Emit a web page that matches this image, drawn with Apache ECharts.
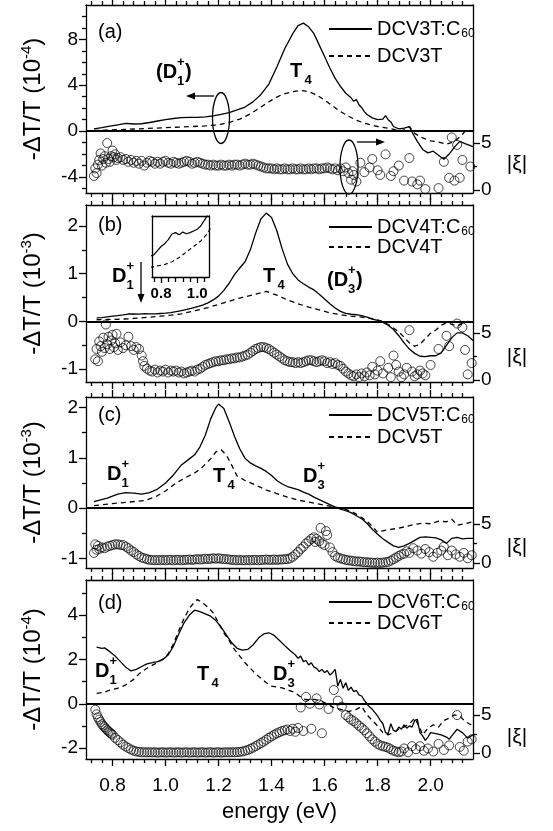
<!DOCTYPE html>
<html>
<head>
<meta charset="utf-8">
<script src="https://cdn.jsdelivr.net/npm/echarts@6/dist/echarts.min.js"></script>
<style>
html, body { margin: 0; padding: 0; background: #fff; }
#chart { width: 553px; height: 831px; }
</style>
</head>
<body>
<div id="chart"></div>
<script>
// ---- tick values ----
const xMajor = [0.8, 1.0, 1.2, 1.4, 1.6, 1.8, 2.0];
const xMinor = [0.72, 0.76, 0.84, 0.88, 0.92, 0.96, 1.04, 1.08, 1.12, 1.16, 1.24, 1.28, 1.32, 1.36,
  1.44, 1.48, 1.52, 1.56, 1.64, 1.68, 1.72, 1.76, 1.84, 1.88, 1.92, 1.96, 2.04, 2.08, 2.12];
const insetMajor = [0.8, 1.0];
const insetMinor = [0.76, 0.84, 0.88, 0.92, 0.96, 1.04];
const xiMajor = [0, 5];
const xiMinor = [2.5];

// ---- (a) DCV3T ----
const solidA = [[0.73,0.2],[0.76,0.3],[0.79,0.43],[0.82,0.55],[0.85,0.67],[0.88,0.62],[0.91,0.64],[0.94,0.75],
  [0.97,0.88],[1.00,1.0],[1.03,1.1],[1.06,1.17],[1.09,1.19],[1.12,1.2],[1.15,1.24],[1.18,1.32],[1.21,1.45],
  [1.24,1.62],[1.27,1.85],[1.30,2.1],[1.33,2.55],[1.36,3.2],[1.39,4.1],[1.42,5.6],[1.45,7.2],[1.48,8.5],
  [1.50,9.2],[1.52,9.42],[1.54,9.1],[1.56,8.5],[1.58,7.5],[1.60,6.5],[1.62,5.5],[1.64,4.6],[1.66,3.9],
  [1.68,3.3],[1.70,2.9],[1.71,2.6],[1.72,2.75],[1.73,2.3],[1.74,2.05],[1.75,1.7],[1.76,1.45],[1.78,1.15],
  [1.80,1.0],[1.82,1.05],[1.83,1.35],[1.84,1.0],[1.85,0.8],[1.86,0.4],[1.88,0.2],[1.90,0.25],[1.92,0.4],
  [1.93,-0.1],[1.95,-0.9],[1.97,-1.6],[1.99,-1.9],[2.01,-1.75],[2.03,-2.1],[2.05,-2.45],[2.07,-2.0],
  [2.09,-1.4],[2.11,-0.9],[2.13,-1.1],[2.16,-1.35]];
const dashA = [[0.73,0.05],[0.80,0.1],[0.90,0.2],[1.00,0.3],[1.10,0.4],[1.15,0.45],[1.20,0.55],[1.24,0.75],
  [1.28,1.05],[1.32,1.5],[1.36,2.1],[1.40,2.7],[1.44,3.2],[1.48,3.45],[1.51,3.55],[1.54,3.45],[1.57,3.15],
  [1.60,2.7],[1.63,2.2],[1.66,1.7],[1.69,1.3],[1.72,0.95],[1.75,0.7],[1.78,0.5],[1.81,0.35],[1.84,0.25],
  [1.87,0.1],[1.89,0.0],[1.91,0.2],[1.92,0.4],[1.94,-0.2],[1.97,-0.6],[2.00,-0.85],[2.03,-0.95],
  [2.06,-1.15],[2.09,-0.9],[2.12,-0.3],[2.14,0.3]];
const xiA = [[0.73,1.5],[0.735,2.3],[0.74,1.8],[0.745,2.7],[0.75,3.2],[0.755,3.9],[0.76,2.6],[0.765,3.3],
  [0.77,3.6],[0.775,2.9],[0.78,5.0],[0.785,3.3],[0.79,3.0],[0.795,3.6],[0.80,4.2],[0.805,3.5],[0.81,3.8],
  [0.815,3.2],[0.82,3.4],[0.83,3.5],[0.84,3.2],[0.85,3.3],[0.86,3.0],[0.87,3.2],[0.88,2.9],[0.89,3.1],
  [0.90,2.8],[0.91,3.1],[0.92,2.6],[0.93,2.9],[0.94,3.1],[0.95,3.0],[0.96,2.8],[0.97,3.0],[0.98,2.8],
  [0.99,3.0],[1.00,3.1],[1.01,2.9],[1.02,2.8],[1.03,3.0],[1.04,2.9],[1.05,2.8],[1.06,2.9],[1.07,3.0],
  [1.08,3.1],[1.09,3.0],[1.10,2.8],[1.11,2.9],[1.12,3.0],[1.13,2.9],[1.14,2.8],[1.15,2.7],[1.16,2.7],
  [1.17,2.6],[1.18,2.7],[1.19,2.6],[1.20,2.6],[1.21,2.7],[1.22,2.6],[1.23,2.6],[1.24,2.7],[1.25,2.6],
  [1.26,2.7],[1.27,2.7],[1.28,2.6],[1.29,2.7],[1.30,2.8],[1.31,2.7],[1.32,2.7],[1.33,2.8],[1.34,2.7],
  [1.35,2.6],[1.36,2.5],[1.37,2.4],[1.38,2.3],[1.39,2.3],[1.40,2.3],[1.41,2.2],[1.42,2.3],[1.43,2.2],
  [1.44,2.2],[1.45,2.3],[1.46,2.2],[1.47,2.2],[1.48,2.3],[1.49,2.2],[1.50,2.2],[1.51,2.3],[1.52,2.2],
  [1.53,2.2],[1.54,2.3],[1.55,2.2],[1.56,2.3],[1.57,2.3],[1.58,2.2],[1.59,2.3],[1.60,2.3],[1.61,2.4],
  [1.62,2.3],[1.63,2.2],[1.64,2.3],[1.65,2.1],[1.66,2.3],[1.67,2.0],[1.68,2.4],[1.69,1.8],[1.70,1.1],
  [1.705,2.0],[1.71,1.6],[1.72,0.9],[1.735,2.9],[1.75,1.9],[1.77,2.4],[1.78,3.3],[1.80,2.1],[1.81,1.6],
  [1.83,3.8],[1.85,1.5],[1.86,2.0],[1.88,2.6],[1.90,1.0],[1.92,3.4],[1.93,0.9],[1.95,0.6],[1.96,1.0],
  [1.98,0.1],[2.03,0.2],[2.05,3.0],[2.07,1.3],[2.08,5.6],[2.09,1.0],[2.10,4.8],[2.11,1.3],[2.12,3.2],[2.15,2.5]];

// ---- (b) DCV4T ----
const solidB = [[0.74,0.075],[0.76,0.08],[0.78,0.095],[0.80,0.11],[0.82,0.12],[0.84,0.135],[0.86,0.155],
  [0.88,0.16],[0.90,0.152],[0.92,0.162],[0.94,0.156],[0.96,0.16],[0.98,0.166],[1.00,0.172],[1.02,0.185],
  [1.04,0.205],[1.06,0.225],[1.08,0.25],[1.10,0.28],[1.12,0.31],[1.14,0.34],[1.16,0.39],[1.18,0.45],
  [1.20,0.53],[1.22,0.65],[1.24,0.8],[1.26,0.98],[1.28,1.12],[1.30,1.25],[1.32,1.5],[1.34,1.85],[1.36,2.15],
  [1.38,2.27],[1.40,2.18],[1.42,1.9],[1.44,1.52],[1.46,1.2],[1.48,1.0],[1.50,0.87],[1.52,0.79],[1.54,0.72],
  [1.56,0.66],[1.58,0.57],[1.60,0.47],[1.62,0.37],[1.64,0.28],[1.66,0.21],[1.68,0.17],[1.70,0.15],
  [1.72,0.14],[1.74,0.12],[1.76,0.09],[1.78,0.05],[1.80,0.02],[1.82,-0.02],[1.84,-0.08],[1.86,-0.17],
  [1.88,-0.3],[1.90,-0.45],[1.92,-0.58],[1.94,-0.67],[1.96,-0.73],[1.98,-0.74],[2.00,-0.72],[2.02,-0.72],
  [2.04,-0.66],[2.06,-0.5],[2.08,-0.34],[2.10,-0.24],[2.12,-0.24],[2.14,-0.3],[2.16,-0.4]];
const dashB = [[0.74,0.035],[0.78,0.04],[0.82,0.045],[0.86,0.055],[0.90,0.07],[0.94,0.09],[0.98,0.11],
  [1.02,0.13],[1.06,0.16],[1.10,0.21],[1.16,0.29],[1.22,0.39],[1.28,0.49],[1.34,0.57],[1.38,0.63],
  [1.42,0.55],[1.46,0.45],[1.50,0.37],[1.54,0.3],[1.58,0.24],[1.62,0.18],[1.66,0.14],[1.70,0.11],
  [1.74,0.09],[1.78,0.06],[1.82,0.0],[1.85,-0.1],[1.88,-0.22],[1.90,-0.33],[1.92,-0.45],[1.94,-0.52],
  [1.96,-0.48],[1.98,-0.36],[2.00,-0.25],[2.02,-0.18],[2.04,-0.08],[2.06,-0.03],[2.08,-0.06],[2.10,-0.1],
  [2.12,-0.04],[2.14,0.0],[2.16,-0.04]];
const xiB = [[0.735,2.2],[0.74,3.3],[0.745,2.0],[0.75,4.1],[0.755,3.6],[0.76,3.0],[0.765,4.5],[0.77,3.4],
  [0.775,5.9],[0.78,3.8],[0.785,4.6],[0.79,3.3],[0.795,4.2],[0.80,4.8],[0.805,3.5],[0.81,3.9],[0.815,4.9],
  [0.82,3.2],[0.83,4.0],[0.84,3.4],[0.85,3.7],[0.86,4.6],[0.87,3.6],[0.88,3.2],[0.89,3.5],[0.90,3.3],
  [0.91,2.6],[0.915,2.0],[0.92,1.5],[0.93,1.2],[0.94,1.0],[0.95,0.9],[0.96,1.1],[0.97,0.8],[0.98,1.0],
  [0.99,0.9],[1.00,1.1],[1.01,0.8],[1.02,1.0],[1.03,0.9],[1.04,1.0],[1.05,0.8],[1.06,0.9],[1.07,0.7],
  [1.08,0.8],[1.09,0.9],[1.10,1.0],[1.11,0.9],[1.12,1.1],[1.13,1.2],[1.14,1.4],[1.15,1.6],[1.16,1.7],
  [1.17,1.8],[1.18,1.9],[1.19,2.0],[1.20,2.0],[1.21,2.1],[1.22,2.1],[1.23,2.2],[1.24,2.2],[1.25,2.3],
  [1.26,2.3],[1.27,2.4],[1.28,2.4],[1.29,2.5],[1.30,2.6],[1.31,2.7],[1.32,2.9],[1.33,3.1],[1.34,3.3],
  [1.35,3.4],[1.36,3.5],[1.37,3.5],[1.38,3.4],[1.39,3.3],[1.40,3.1],[1.41,2.9],[1.42,2.7],[1.43,2.5],
  [1.44,2.3],[1.45,2.1],[1.46,2.0],[1.47,1.9],[1.48,1.9],[1.49,1.8],[1.50,1.9],[1.51,1.8],[1.52,1.9],
  [1.53,2.0],[1.54,2.1],[1.55,2.1],[1.56,2.0],[1.57,1.9],[1.58,2.0],[1.59,2.1],[1.60,2.0],[1.61,1.8],
  [1.62,1.9],[1.63,1.7],[1.64,1.8],[1.65,1.6],[1.66,1.5],[1.67,1.2],[1.68,0.9],[1.69,0.7],[1.70,0.5],
  [1.71,0.4],[1.72,0.6],[1.73,0.3],[1.74,0.7],[1.75,0.4],[1.76,0.8],[1.77,0.5],[1.78,1.4],[1.79,0.6],
  [1.80,1.0],[1.81,2.0],[1.82,0.7],[1.84,1.3],[1.85,0.3],[1.86,2.6],[1.87,1.6],[1.88,0.9],[1.89,0.3],
  [1.90,0.6],[1.91,1.3],[1.92,5.3],[1.93,0.9],[1.94,0.4],[1.95,0.6],[1.96,1.0],[1.97,0.7],[1.98,0.5],
  [2.00,1.6],[2.03,3.3],[2.06,4.7],[2.07,3.6],[2.10,6.0],[2.12,5.6],[2.13,3.2],[2.14,0.6],[2.155,1.8]];

// ---- (c) DCV5T ----
const solidC = [[0.73,0.13],[0.78,0.2],[0.82,0.28],[0.85,0.31],[0.88,0.3],[0.91,0.28],[0.94,0.31],[0.97,0.38],
  [1.00,0.5],[1.03,0.66],[1.06,0.86],[1.09,0.98],[1.11,1.06],[1.13,1.22],[1.15,1.45],[1.17,1.77],[1.19,2.0],
  [1.20,2.07],[1.22,1.98],[1.24,1.72],[1.26,1.43],[1.28,1.18],[1.30,0.99],[1.32,0.9],[1.34,0.84],[1.36,0.79],
  [1.38,0.73],[1.40,0.65],[1.42,0.55],[1.44,0.48],[1.46,0.43],[1.48,0.4],[1.50,0.37],[1.52,0.32],[1.54,0.28],
  [1.56,0.22],[1.58,0.17],[1.60,0.12],[1.62,0.07],[1.64,0.02],[1.66,-0.02],[1.68,-0.05],[1.70,-0.09],
  [1.72,-0.15],[1.74,-0.21],[1.76,-0.3],[1.78,-0.42],[1.80,-0.52],[1.82,-0.61],[1.84,-0.68],[1.86,-0.75],
  [1.88,-0.78],[1.90,-0.75],[1.92,-0.7],[1.94,-0.64],[1.96,-0.58],[1.98,-0.57],[2.00,-0.58],[2.02,-0.59],
  [2.04,-0.63],[2.06,-0.7],[2.08,-0.6],[2.10,-0.58],[2.12,-0.61],[2.14,-0.6],[2.16,-0.6]];
const dashC = [[0.73,0.05],[0.80,0.09],[0.86,0.12],[0.92,0.15],[0.96,0.22],[1.00,0.34],[1.04,0.5],[1.08,0.62],
  [1.11,0.7],[1.14,0.82],[1.17,0.98],[1.19,1.12],[1.21,1.16],[1.23,1.05],[1.25,0.85],[1.27,0.64],[1.30,0.55],
  [1.34,0.46],[1.38,0.36],[1.42,0.29],[1.46,0.22],[1.50,0.16],[1.54,0.12],[1.58,0.08],[1.62,0.04],[1.66,0.0],
  [1.70,-0.06],[1.73,-0.15],[1.76,-0.26],[1.78,-0.36],[1.80,-0.48],[1.82,-0.45],[1.85,-0.42],[1.88,-0.4],
  [1.91,-0.36],[1.94,-0.32],[1.97,-0.3],[2.00,-0.31],[2.03,-0.26],[2.06,-0.27],[2.08,-0.22],[2.10,-0.34],
  [2.13,-0.31],[2.16,-0.27]];
const xiC = [[0.73,1.3],[0.735,2.4],[0.74,1.7],[0.745,2.2],[0.75,1.8],[0.76,2.0],[0.77,1.9],[0.78,2.1],
  [0.79,2.2],[0.80,2.3],[0.81,2.4],[0.82,2.4],[0.83,2.3],[0.84,2.3],[0.85,2.1],[0.86,1.9],[0.87,1.6],
  [0.88,1.4],[0.89,1.1],[0.90,0.9],[0.91,0.7],[0.92,0.6],[0.93,0.5],[0.94,0.4],[0.95,0.4],[0.96,0.35],
  [0.97,0.4],[0.98,0.35],[0.99,0.4],[1.00,0.35],[1.01,0.4],[1.02,0.4],[1.03,0.35],[1.04,0.4],[1.05,0.4],
  [1.06,0.35],[1.07,0.4],[1.08,0.4],[1.09,0.45],[1.10,0.4],[1.11,0.45],[1.12,0.5],[1.13,0.45],[1.14,0.5],
  [1.15,0.55],[1.16,0.5],[1.17,0.55],[1.18,0.6],[1.19,0.55],[1.20,0.6],[1.21,0.55],[1.22,0.5],[1.23,0.5],
  [1.24,0.45],[1.25,0.4],[1.26,0.4],[1.27,0.35],[1.28,0.4],[1.29,0.35],[1.30,0.35],[1.31,0.4],[1.32,0.35],
  [1.33,0.4],[1.34,0.4],[1.35,0.35],[1.36,0.4],[1.37,0.4],[1.38,0.45],[1.39,0.4],[1.40,0.4],[1.41,0.45],
  [1.42,0.4],[1.43,0.45],[1.44,0.45],[1.45,0.5],[1.46,0.5],[1.47,0.6],[1.48,0.8],[1.49,1.1],[1.50,1.4],
  [1.51,1.8],[1.52,2.1],[1.53,2.5],[1.54,2.8],[1.55,3.1],[1.56,3.3],[1.565,2.7],[1.57,3.1],[1.58,2.8],
  [1.585,4.5],[1.59,2.5],[1.60,2.3],[1.605,4.1],[1.61,3.6],[1.62,2.0],[1.63,1.4],[1.64,0.9],[1.65,0.7],
  [1.66,0.6],[1.67,0.5],[1.68,0.4],[1.69,0.35],[1.70,0.3],[1.71,0.25],[1.72,0.2],[1.73,0.2],[1.74,0.15],
  [1.75,0.1],[1.76,0.1],[1.77,0.05],[1.78,0.05],[1.79,0.0],[1.80,0.05],[1.81,0.0],[1.82,0.05],[1.83,0.1],
  [1.84,0.15],[1.85,0.3],[1.86,0.5],[1.87,0.7],[1.88,0.9],[1.89,1.1],[1.90,1.2],[1.91,1.5],[1.92,1.3],
  [1.935,1.9],[1.95,1.6],[1.965,1.2],[1.98,1.8],[1.995,1.4],[2.01,0.8],[2.025,1.3],[2.04,1.6],[2.05,2.1],
  [2.065,1.0],[2.08,1.6],[2.095,1.1],[2.11,0.8],[2.125,1.3],[2.14,0.6],[2.155,1.0]];

// ---- (d) DCV6T ----
const solidD = [[0.74,2.55],[0.76,2.5],[0.77,2.52],[0.79,2.35],[0.81,2.15],[0.83,1.9],[0.85,1.65],[0.87,1.48],
  [0.89,1.55],[0.91,1.68],[0.93,1.8],[0.95,1.85],[0.97,1.9],[0.99,2.0],[1.01,2.2],[1.03,2.6],[1.05,3.15],
  [1.07,3.65],[1.09,4.0],[1.11,4.22],[1.13,4.15],[1.15,4.05],[1.17,3.95],[1.19,3.75],[1.21,3.45],[1.23,3.1],
  [1.25,2.75],[1.27,2.5],[1.29,2.42],[1.31,2.45],[1.33,2.65],[1.35,2.95],[1.37,3.15],[1.39,3.2],[1.41,3.08],
  [1.43,2.85],[1.45,2.62],[1.47,2.4],[1.49,2.2],[1.50,2.05],[1.51,2.15],[1.52,1.9],[1.53,1.95],[1.54,1.75],
  [1.55,1.85],[1.56,1.65],[1.57,1.6],[1.58,1.45],[1.59,1.55],[1.60,1.4],[1.61,1.5],[1.62,1.3],[1.63,1.4],
  [1.64,1.55],[1.65,0.8],[1.66,1.1],[1.67,0.7],[1.68,0.95],[1.69,0.6],[1.70,0.75],[1.71,0.55],[1.72,0.6],
  [1.73,0.4],[1.74,0.35],[1.75,0.15],[1.76,0.0],[1.77,-0.15],[1.78,-0.25],[1.79,-0.4],[1.80,-0.55],
  [1.81,-0.75],[1.82,-0.9],[1.83,-1.3],[1.84,-1.35],[1.85,-0.9],[1.86,-1.2],[1.87,-1.25],[1.88,-1.05],
  [1.89,-1.15],[1.90,-0.95],[1.91,-1.1],[1.92,-1.0],[1.93,-1.05],[1.94,-0.75],[1.95,-0.7],[1.96,-1.3],
  [1.97,-1.45],[1.98,-1.65],[1.99,-1.5],[2.00,-1.3],[2.02,-1.35],[2.04,-1.4],[2.06,-1.5],[2.07,-1.6],
  [2.08,-1.45],[2.10,-1.15],[2.12,-1.3],[2.14,-1.55],[2.16,-1.4]];
const dashD = [[0.74,0.47],[0.77,0.52],[0.79,0.62],[0.82,0.7],[0.85,0.85],[0.88,1.1],[0.90,1.35],[0.93,1.6],
  [0.96,1.8],[0.99,2.0],[1.01,2.25],[1.03,2.7],[1.05,3.3],[1.07,3.85],[1.09,4.3],[1.11,4.6],[1.12,4.7],
  [1.14,4.55],[1.16,4.35],[1.18,4.1],[1.20,3.65],[1.22,3.2],[1.24,2.85],[1.26,2.45],[1.28,2.15],[1.30,1.85],
  [1.32,1.6],[1.34,1.35],[1.36,1.15],[1.38,0.95],[1.40,0.8],[1.42,0.75],[1.44,0.72],[1.46,0.62],[1.48,0.55],
  [1.50,0.4],[1.52,0.22],[1.54,0.17],[1.56,0.2],[1.58,0.15],[1.60,0.05],[1.63,-0.15],[1.66,-0.25],
  [1.69,-0.35],[1.72,-0.25],[1.74,-0.12],[1.76,-0.5],[1.78,-0.75],[1.80,-1.0],[1.82,-1.3],[1.84,-1.4],
  [1.86,-1.3],[1.88,-1.15],[1.90,-1.05],[1.92,-0.9],[1.94,-0.65],[1.96,-1.1],[1.97,-1.4],[1.99,-1.1],
  [2.01,-0.95],[2.03,-1.05],[2.05,-0.75],[2.07,-0.65],[2.09,-0.5],[2.11,-0.55],[2.13,-0.8],[2.16,-1.0]];
const xiD = [[0.735,5.7],[0.74,5.1],[0.745,4.7],[0.75,4.4],[0.755,4.1],[0.76,3.8],[0.765,3.6],[0.77,3.4],
  [0.775,3.2],[0.78,3.0],[0.785,2.85],[0.79,2.7],[0.795,2.55],[0.80,2.4],[0.81,2.0],[0.82,1.7],[0.83,1.4],
  [0.84,1.1],[0.85,0.85],[0.86,0.65],[0.87,0.45],[0.88,0.3],[0.89,0.2],[0.90,0.15],[0.91,0.1],[0.92,0.1],
  [0.93,0.08],[0.94,0.1],[0.95,0.08],[0.96,0.1],[0.97,0.05],[0.98,0.08],[0.99,0.1],[1.00,0.05],[1.01,0.08],
  [1.02,0.1],[1.03,0.05],[1.04,0.08],[1.05,0.1],[1.06,0.05],[1.07,0.08],[1.08,0.1],[1.09,0.05],[1.10,0.08],
  [1.11,0.1],[1.12,0.05],[1.13,0.08],[1.14,0.1],[1.15,0.05],[1.16,0.08],[1.17,0.1],[1.18,0.05],[1.19,0.08],
  [1.20,0.1],[1.21,0.05],[1.22,0.08],[1.23,0.1],[1.24,0.08],[1.25,0.1],[1.26,0.1],[1.27,0.12],[1.28,0.15],
  [1.29,0.2],[1.30,0.3],[1.31,0.4],[1.32,0.55],[1.33,0.7],[1.34,0.9],[1.35,1.1],[1.36,1.3],[1.37,1.5],
  [1.38,1.75],[1.39,2.0],[1.40,2.2],[1.41,2.4],[1.42,2.6],[1.43,2.75],[1.44,2.9],[1.45,3.0],[1.46,3.1],
  [1.47,2.9],[1.48,3.2],[1.49,2.8],[1.50,3.3],[1.51,6.0],[1.52,2.9],[1.53,7.4],[1.545,6.5],[1.55,3.2],
  [1.57,7.2],[1.58,6.4],[1.59,2.6],[1.615,5.8],[1.635,8.3],[1.65,6.9],[1.665,6.1],[1.68,5.0],[1.69,4.7],
  [1.70,4.4],[1.71,4.2],[1.72,3.9],[1.73,3.6],[1.74,3.3],[1.75,3.0],[1.76,2.6],[1.77,2.2],[1.78,1.8],
  [1.79,1.5],[1.80,1.2],[1.81,1.0],[1.82,0.9],[1.83,0.8],[1.84,0.7],[1.85,0.5],[1.86,0.3],[1.87,0.2],
  [1.88,0.1],[1.89,0.2],[1.90,0.6],[1.915,0.1],[1.93,0.9],[1.945,0.5],[1.96,0.9],[1.975,0.3],[1.99,0.6],
  [2.01,0.2],[2.03,1.2],[2.05,0.4],[2.07,1.0],[2.10,5.0],[2.11,0.8],[2.125,0.3],[2.14,1.5],[2.155,1.8]];

const FONT = '"Liberation Sans", Arial, Helvetica, sans-serif';
const BLK = '#000';

const panels = [
  { top: 5,   h: 188, yMin: -5.4,  yMax: 11.0, rMin: -0.32, rMax: 19.7,
    yMajor: [-4, 0, 4, 8], yMinor: [-5, -3, -2, -1, 1, 2, 3, 5, 6, 7, 9, 10], exp: '-4',
    solid: solidA, dash: dashA, xi: xiA, names: ['DCV3T:C60', 'DCV3T'], legTop: 18.5, legGap: 6 },
  { top: 205, h: 177, yMin: -1.27, yMax: 2.44, rMin: -0.21, rMax: 18.6,
    yMajor: [-1, 0, 1, 2], yMinor: [-0.5, 0.5, 1.5], exp: '-3',
    solid: solidB, dash: dashB, xi: xiB, names: ['DCV4T:C60', 'DCV4T'], legTop: 216.5, legGap: -1 },
  { top: 397, h: 171, yMin: -1.19, yMax: 2.21, rMin: -0.64, rMax: 21.3,
    yMajor: [-1, 0, 1, 2], yMinor: [-0.5, 0.5, 1.5], exp: '-3',
    solid: solidC, dash: dashC, xi: xiC, names: ['DCV5T:C60', 'DCV5T'], legTop: 404.5, legGap: 1 },
  { top: 580, h: 179, yMin: -2.49, yMax: 5.58, rMin: -0.79, rMax: 22.8,
    yMajor: [-2, 0, 2, 4], yMinor: [-1, 1, 3, 5], exp: '-4',
    solid: solidD, dash: dashD, xi: xiD, names: ['DCV6T:C60', 'DCV6T'], legTop: 591.5, legGap: 0 }
];
const xiLabelY = [164, 357, 547, 737];

const line = { color: BLK, width: 1.3 };
const grid = [], xAxis = [], yAxis = [], series = [], legend = [];

function tickAxis(base, ticks, len, showLine, label) {
  return Object.assign({
    type: 'value',
    splitLine: { show: false },
    axisLine: { show: showLine, onZero: false, lineStyle: line },
    axisTick: { show: true, inside: false, length: len, customValues: ticks, lineStyle: line },
    axisLabel: label || { show: false }
  }, base);
}

panels.forEach((p, i) => {
  grid.push({ left: 86, right: 80, top: p.top, height: p.h, show: false });
  const xb = { gridIndex: i, min: 0.70, max: 2.16 };
  const xLabel = i === 3 ? { show: true, customValues: xMajor, formatter: v => v.toFixed(1),
    fontSize: 19, fontFamily: FONT, color: BLK, margin: 17 } : { show: false };
  const bottom = tickAxis(Object.assign({ position: 'bottom' }, xb), xMajor, 7, true, xLabel);
  if (i === 3) {
    Object.assign(bottom, { name: 'energy (eV)', nameLocation: 'middle', nameGap: 42,
      nameTextStyle: { fontSize: 22, fontFamily: FONT, color: BLK } });
  }
  xAxis.push(bottom);
  xAxis.push(tickAxis(Object.assign({ position: 'bottom' }, xb), xMinor, 4, false));
  xAxis.push(tickAxis(Object.assign({ position: 'top' }, xb), xMajor, 7, true));
  xAxis.push(tickAxis(Object.assign({ position: 'top' }, xb), xMinor, 4, false));

  const yl = { gridIndex: i, position: 'left', min: p.yMin, max: p.yMax };
  const left = tickAxis(yl, p.yMajor, 7, true, { show: true, customValues: p.yMajor,
    fontSize: 19, fontFamily: FONT, color: BLK, margin: 8 });
  Object.assign(left, {
    name: '-ΔT/T (10{sup|' + p.exp + '})', nameLocation: 'middle', nameGap: 39,
    nameTextStyle: { fontSize: 24, fontFamily: FONT, color: BLK, lineHeight: 28,
      rich: { sup: { fontSize: 15, fontFamily: FONT, color: BLK, verticalAlign: 'top' } } }
  });
  yAxis.push(left);
  yAxis.push(tickAxis(yl, p.yMinor, 4, false));
  const yr = { gridIndex: i, position: 'right', min: p.rMin, max: p.rMax };
  yAxis.push(tickAxis(yr, xiMajor, 7, true, { show: true, customValues: xiMajor,
    fontSize: 19, fontFamily: FONT, color: BLK, margin: 8 }));
  yAxis.push(tickAxis(yr, xiMinor, 4, false));

  const ax = 4 * i;
  series.push({
    type: 'line', name: p.names[0], xAxisIndex: ax, yAxisIndex: ax, data: p.solid,
    symbol: 'none', itemStyle: { color: BLK }, lineStyle: { color: BLK, width: 1.3, type: 'solid' }, z: 3,
    markLine: { silent: true, symbol: 'none', label: { show: false }, animation: false,
      lineStyle: { color: BLK, width: 1.8, type: 'solid' }, data: [{ yAxis: 0 }] }
  });
  series.push({
    type: 'line', name: p.names[1], xAxisIndex: ax, yAxisIndex: ax, data: p.dash,
    symbol: 'none', itemStyle: { color: BLK }, lineStyle: { color: BLK, width: 1.3, type: [5, 4] }, z: 3
  });
  series.push({
    type: 'scatter', xAxisIndex: ax, yAxisIndex: ax + 2, data: p.xi, symbol: 'circle', symbolSize: 9,
    itemStyle: { color: 'rgba(0,0,0,0)', borderColor: BLK, borderWidth: 0.9 }, z: 2, silent: true
  });

  legend.push({
    data: p.names, orient: 'vertical', left: 328, top: p.legTop, itemWidth: 43, itemHeight: 10,
    itemGap: p.legGap, selectedMode: false, padding: 0,
    itemStyle: { opacity: 0 },
    formatter: n => n.replace('C60', 'C{sub|60}'),
    textStyle: { fontSize: 20, fontFamily: FONT, color: BLK, lineHeight: 21,
      rich: { sub: { fontSize: 12, fontFamily: FONT, color: BLK, verticalAlign: 'bottom', padding: [0, 0, 0, 1] } } }
  });
});

// inset in panel (b)
grid.push({ left: 152, top: 216, width: 57, height: 61, show: true, backgroundColor: '#fff', borderWidth: 0 });
const ib = { gridIndex: 4, min: 0.75, max: 1.065 };
xAxis.push(tickAxis(Object.assign({ position: 'bottom' }, ib), insetMajor, 6, true,
  { show: true, customValues: insetMajor, formatter: v => v.toFixed(1), fontSize: 15,
    fontWeight: 'bold', fontFamily: FONT, color: BLK, margin: 9 }));
xAxis.push(tickAxis(Object.assign({ position: 'bottom' }, ib), insetMinor, 5, false));
xAxis.push(Object.assign({ position: 'top', type: 'value', splitLine: { show: false },
  axisLine: { show: true, onZero: false, lineStyle: line }, axisTick: { show: false }, axisLabel: { show: false } }, ib));
const iy = { gridIndex: 4, min: 0.0, max: 0.22 };
['left', 'right'].forEach(pos => yAxis.push(Object.assign({ position: pos, type: 'value', splitLine: { show: false },
  axisLine: { show: true, onZero: false, lineStyle: line }, axisTick: { show: false }, axisLabel: { show: false } }, iy)));
series.push({ type: 'line', xAxisIndex: 16, yAxisIndex: 16, data: solidB, symbol: 'none',
  lineStyle: { color: BLK, width: 1.2 }, z: 5 });
series.push({ type: 'line', xAxisIndex: 16, yAxisIndex: 16, data: dashB, symbol: 'none',
  lineStyle: { color: BLK, width: 1.2, type: [4, 3] }, z: 5 });

// annotations
function txt(x, y, s, size, bold, align) {
  return { type: 'text', z: 10, style: { text: s, x: x, y: y, fill: BLK,
    font: (bold ? 'bold ' : '') + size + 'px ' + FONT, textAlign: align || 'left', textVerticalAlign: 'middle' } };
}
function label(x, y, main, sup, sub, after) {
  const w = main.length === 2 ? 21 : 14.5;
  const out = [txt(x, y, main, 20, true)];
  if (sup) out.push(txt(x + w, y - 10, sup, 13, true));
  if (sub) out.push(txt(x + w, y + 9, sub, 13, true));
  if (after) out.push(txt(x + w + 8, y, after, 20, true));
  return out;
}
function arrowH(x1, x2, y) {
  const d = x2 > x1 ? 1 : -1;
  return [
    { type: 'line', z: 10, shape: { x1: x1, y1: y, x2: x2 - d * 7, y2: y }, style: { stroke: BLK, lineWidth: 1.3 } },
    { type: 'polygon', z: 10, shape: { points: [[x2, y], [x2 - d * 9, y - 3.5], [x2 - d * 9, y + 3.5]] }, style: { fill: BLK } }
  ];
}
const graphic = [].concat(
  [txt(98, 32, '(a)', 20), txt(98, 225, '(b)', 20), txt(98, 415, '(c)', 20), txt(98, 603, '(d)', 20)],
  xiLabelY.map(y => txt(517, y, '|ξ|', 21, false, 'center')),
  label(156, 72, '(D', '+', '1', ')'),
  label(290, 71, 'T', null, '4'),
  label(112, 276, 'D', '+', '1'),
  label(263, 276, 'T', null, '4'),
  label(327, 280, '(D', '+', '3', ')'),
  label(107, 474, 'D', '+', '1'),
  label(213, 476, 'T', null, '4'),
  label(303, 476, 'D', '+', '3'),
  label(95, 671, 'D', '+', '1'),
  label(197, 674, 'T', null, '4'),
  label(273, 674, 'D', '+', '3'),
  [
    { type: 'ellipse', z: 10, shape: { cx: 221, cy: 118, rx: 8.5, ry: 25.5 }, style: { fill: 'none', stroke: BLK, lineWidth: 1.3 } },
    { type: 'ellipse', z: 10, shape: { cx: 349, cy: 167, rx: 9, ry: 27 }, style: { fill: 'none', stroke: BLK, lineWidth: 1.3 } },
    { type: 'line', z: 10, shape: { x1: 141, y1: 262, x2: 141, y2: 295 }, style: { stroke: BLK, lineWidth: 1.3 } },
    { type: 'polygon', z: 10, shape: { points: [[141, 303], [137.5, 294], [144.5, 294]] }, style: { fill: BLK } }
  ],
  arrowH(214, 186, 96),
  arrowH(357, 385, 142)
);

const chart = echarts.init(document.getElementById('chart'), null, { renderer: 'canvas' });
chart.setOption({
  animation: false,
  backgroundColor: '#fff',
  grid: grid,
  xAxis: xAxis,
  yAxis: yAxis,
  legend: legend,
  series: series,
  graphic: graphic
});
</script>
</body>
</html>
